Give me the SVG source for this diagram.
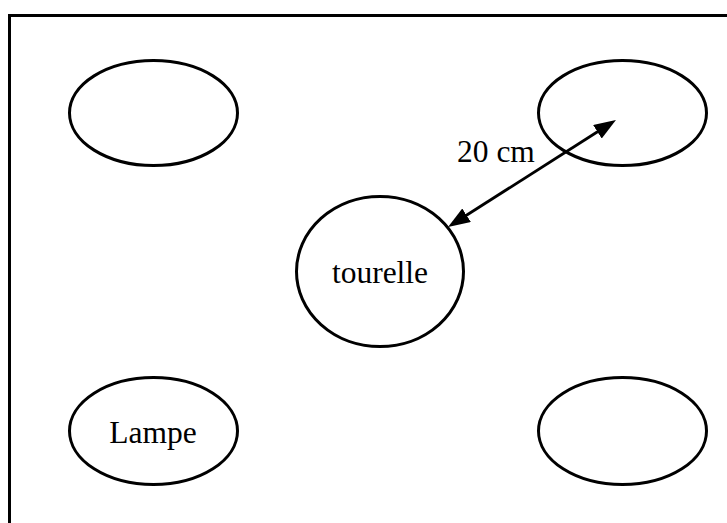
<svg xmlns="http://www.w3.org/2000/svg" width="727" height="523" viewBox="0 0 727 523">
  <defs>
    <style>
      .node { fill: #ffffff; stroke: #000000; stroke-width: 3; }
      .frame { fill: none; stroke: #000000; stroke-width: 3; }
      .lbl { font-family: "Liberation Serif", "Times New Roman", serif; font-size: 31.5px; fill: #000000; }
      .conn { fill: none; stroke: #000000; stroke-width: 2.8; }
    </style>
    <marker id="head" viewBox="0 0 22 16" markerWidth="22" markerHeight="16" refX="2" refY="8" markerUnits="userSpaceOnUse" orient="auto-start-reverse">
      <path d="M0,0 L22,8 L0,16 z" fill="#000000"/>
    </marker>
  </defs>
  <rect x="0" y="0" width="727" height="523" fill="#ffffff"/>
  <path class="frame" d="M9.5,523 L9.5,15.5 L727,15.5"/>
  <g id="lamp-top-left">
    <ellipse class="node" cx="153.5" cy="113" rx="84" ry="52.5"/>
  </g>
  <g id="lamp-top-right">
    <ellipse class="node" cx="622.5" cy="113" rx="84" ry="52.5"/>
  </g>
  <g id="tourelle">
    <ellipse class="node" cx="380" cy="271.5" rx="83.5" ry="75"/>
    <text class="lbl" x="380" y="283" text-anchor="middle">tourelle</text>
  </g>
  <g id="lampe">
    <ellipse class="node" cx="153.5" cy="431" rx="84" ry="53.5"/>
    <text class="lbl" x="153" y="443" text-anchor="middle">Lampe</text>
  </g>
  <g id="lamp-bottom-right">
    <ellipse class="node" cx="622.5" cy="431" rx="84" ry="53.5"/>
  </g>
  <g id="connectors">
    <path class="conn" d="M464.9,216.3 L599.1,130.7" marker-start="url(#head)" marker-end="url(#head)"/>
    <text class="lbl" x="457" y="162">20 cm</text>
  </g>
</svg>
